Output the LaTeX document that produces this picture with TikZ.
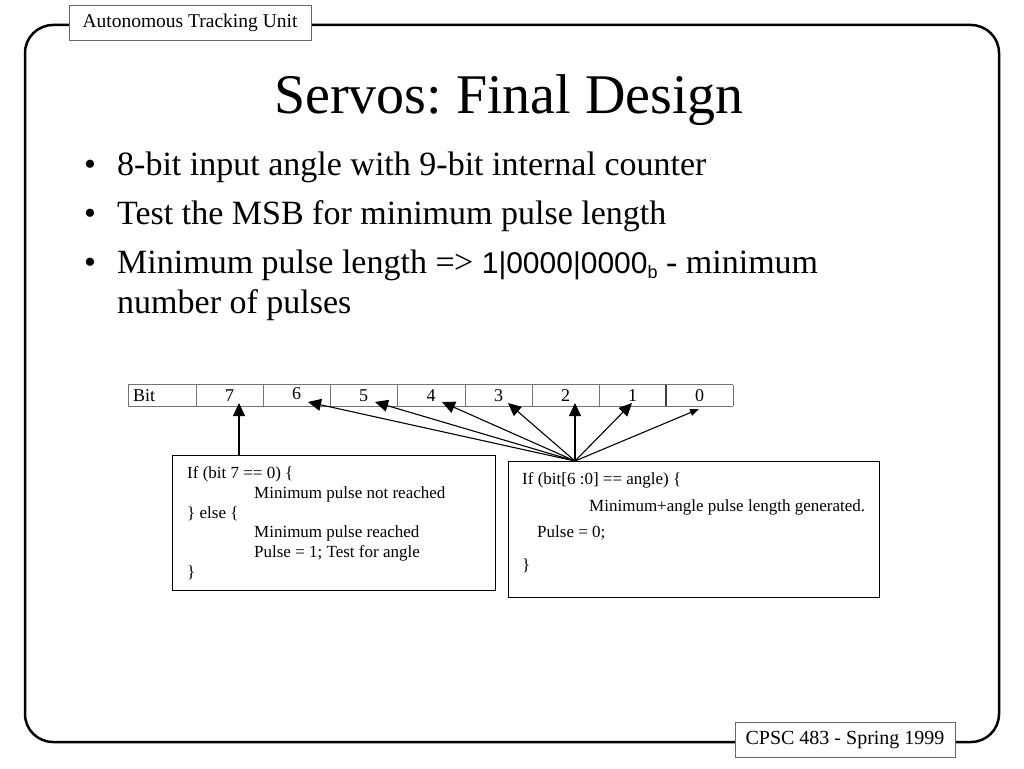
\documentclass[tikz,border=0pt]{standalone}
\usepackage{fontspec}
\setmainfont{Liberation Serif}
\newfontfamily\arialf{Liberation Sans}
\usetikzlibrary{arrows.meta}
\frenchspacing
\tikzset{
  frame/.style={line width=2.5pt, rounded corners=28pt},
  labelbox/.style={draw=black!60, line width=0.8pt, fill=white, inner sep=0pt, font=\fontsize{19.5}{22}\selectfont},
  cell/.style={minimum width=67.5pt, minimum height=21pt, inner sep=0pt, font=\fontsize{18}{20}\selectfont},
  codebox/.style={draw=black, line width=1pt},
  codetxt/.style={anchor=base west, inner sep=0pt, font=\fontsize{17}{20}\selectfont},
  pointer/.style={line width=1.1pt, -{Triangle[length=13pt,width=12pt]}},
  bullettxt/.style={anchor=base west, inner sep=0pt, font=\fontsize{34}{40}\selectfont},
  grid/.style={draw=black!55, line width=0.6pt}
}
\begin{document}
\begin{tikzpicture}[x=1pt,y=-1pt]
\useasboundingbox (0,0) rectangle (1024,768);
\fill[white] (0,0) rectangle (1024,768);
% frame
\draw[frame] (25,25) rectangle (999,742);
\node[labelbox, minimum width=242pt, minimum height=35pt] (hdr) at (190,22.5) {Autonomous Tracking Unit};
\node[labelbox, minimum width=220pt, minimum height=35pt, font=\fontsize{20}{23}\selectfont] (ftr) at (845,739.5) {CPSC 483 - Spring 1999};
% title
\node[inner sep=0pt, anchor=base, font=\fontsize{56}{64}\selectfont] (title) at (509,113) {Servos: Final Design};
% bullets
\node[bullettxt] (b1d) at (84,175) {\textbullet};
\node[bullettxt] (b1) at (117,175) {8-bit input angle with 9-bit internal counter};
\node[bullettxt] (b2d) at (84,224) {\textbullet};
\node[bullettxt] (b2) at (117,224) {Test the MSB for minimum pulse length};
\node[bullettxt] (b3d) at (84,273) {\textbullet};
\node[bullettxt] (b3) at (117,273) {Minimum pulse length =\kern-0.5pt> {\arialf\fontsize{30}{36}\selectfont 1|0000|0000\raisebox{-5pt}{\fontsize{18}{20}\selectfont b}} - minimum};
\node[bullettxt] (b4) at (117,313) {number of pulses};
% table
\draw[grid] (128,384.5) -- (733,384.5);
\draw[grid] (128,406) -- (733,406);
\foreach \x in {128,196,263,330,397,465,532,599,733}{
  \draw[grid] (\x,384.5) -- (\x,406);
}
\draw[line width=1.8pt, black!75] (666,384.5) -- (666,406);
\node[cell, anchor=west, minimum width=0pt] (cbit) at (133,396) {Bit};
\node[cell] (c7) at (229.5,396) {7};
\node[cell] (c6) at (296.5,394) {6};
\node[cell] (c5) at (363.5,396) {5};
\node[cell] (c4) at (431,396) {4};
\node[cell] (c3) at (498.5,396) {3};
\node[cell] (c2) at (565.5,396) {2};
\node[cell] (c1) at (632.5,396) {1};
\node[cell] (c0) at (699.5,396) {0};
% code boxes
\draw[codebox] (172,455) rectangle (495,590);
\coordinate (lboxtop) at (239,455);
\node[codetxt] (l1) at (187,478) {If (bit 7 == 0) \{};
\node[codetxt] (l2) at (254,498) {Minimum pulse not reached};
\node[codetxt] (l3) at (187,518) {\} else \{};
\node[codetxt] (l4) at (254,537) {Minimum pulse reached};
\node[codetxt] (l5) at (254,557) {Pulse = 1; Test for angle};
\node[codetxt] (l6) at (187,577) {\}};
\draw[codebox] (508,461) rectangle (879,597);
\node[codetxt] (r1) at (522,484) {If (bit[6 :0] == angle) \{};
\node[codetxt] (r2) at (589,511) {Minimum+angle pulse length generated.};
\node[codetxt] (r3) at (537,537) {Pulse = 0;};
\node[codetxt] (r4) at (522,570) {\}};
% arrows
\coordinate (fan) at (575,461);
\coordinate (t7) at (239,403);
\coordinate (t6) at (308,402);
\coordinate (t5) at (375,402);
\coordinate (t4) at (442,402);
\coordinate (t3) at (508,403);
\coordinate (t2) at (575,403);
\coordinate (t1) at (632,403);
\coordinate (t0) at (699,409);
\draw[pointer] (lboxtop) -- (t7);
\foreach \t in {t6,t5,t4,t3,t2,t1}{ \draw[pointer] (fan) -- (\t); }
\draw[line width=1.1pt, -{Triangle[length=9pt,width=7pt]}] (fan) -- (t0);
\end{tikzpicture}
\end{document}
